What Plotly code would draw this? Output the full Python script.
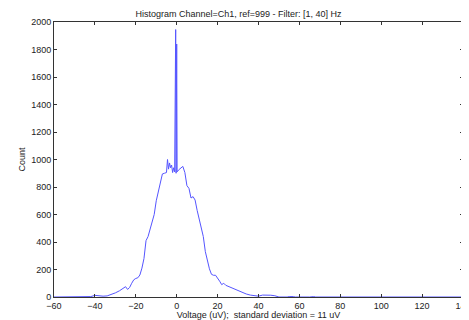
import plotly.graph_objects as go

voltage = [-60, -48, -47, -45, -44, -42, -40, -38, -36, -34, -32, -30, -28, -27, -26, -25, -24, -23, -22, -21, -20,
           -19, -18, -17, -16, -15, -14, -13, -12, -11, -10, -9, -8, -7, -6, -5, -4.5, -4, -3.5, -3, -2.5, -2, -1.5,
           -1, -0.5, -0.3, 0, 0.2, 0.5, 1, 2, 3, 4, 5, 6, 7, 8, 9, 10, 11, 12, 13, 14, 15, 16, 17, 18, 19, 20,
           21, 22, 23, 24, 26, 28, 30, 32, 34, 36, 38, 40, 42, 44, 46, 48, 50, 54, 55, 57, 58, 65, 66, 67, 68,
           75, 76, 77, 90, 91, 92, 95, 96, 97, 98, 110, 111, 114, 115, 123, 124, 127, 128, 140]
count = [0, 0, 3, 3, 0, 3, 12, 8, 6, 8, 18, 30, 45, 55, 60, 75, 55, 70, 100, 125, 135,
         140, 160, 210, 280, 410, 440, 500, 545, 600, 700, 760, 840, 895, 900, 905, 1000, 930, 975, 940, 960, 905, 940,
         910, 1945, 900, 1840, 910, 915, 925, 940, 950, 905, 810, 790, 720, 730, 705, 630, 560, 515, 440, 330, 255, 205, 165, 158, 158, 140,
         115, 90, 100, 85, 72, 58, 48, 35, 22, 14, 9, 6, 14, 15, 13, 9, 0, 0, 3, 3, 0, 0, 3, 3, 0,
         0, 3, 0, 0, 3, 0, 0, 3, 3, 0, 0, 3, 3, 0, 0, 3, 3, 0, 0]

x_ticks = [-60, -40, -20, 0, 20, 40, 60, 80, 100, 120, 140]
y_ticks = [0, 200, 400, 600, 800, 1000, 1200, 1400, 1600, 1800, 2000]

FONT = "Liberation Sans, Arial"

fig = go.Figure()
fig.add_trace(go.Scatter(x=voltage, y=count, mode="lines",
                         line=dict(color="rgb(85,85,255)", width=1), showlegend=False))

axis_common = dict(showline=True, linecolor="#333", linewidth=1, mirror="ticks", ticks="inside",
                   ticklen=3, tickcolor="#333", showgrid=False, zeroline=False,
                   ticklabeloverflow="allow", automargin=False,
                   tickfont=dict(family=FONT, size=9, color="#222"))
fig.update_xaxes(range=[-60, 140], tickvals=x_ticks, **axis_common,
                 title=dict(text="Voltage (uV);  standard deviation = 11 uV", standoff=0,
                            font=dict(family=FONT, size=9, color="#222")))
fig.update_yaxes(range=[0, 2000], tickvals=y_ticks, **axis_common,
                 title=dict(text="Count", standoff=4,
                            font=dict(family=FONT, size=9, color="#222")))
fig.update_layout(
    width=461, height=312,
    margin=dict(l=46, r=6, t=14, b=23),
    paper_bgcolor="white", plot_bgcolor="white",
    title=dict(text="Histogram Channel=Ch1, ref=999 - Filter: [1, 40] Hz", x=0.5, xanchor="center",
               y=1 - 6 / 312, yanchor="middle",
               font=dict(family=FONT, size=9, color="#222")),
)
fig.write_html("out.html")
